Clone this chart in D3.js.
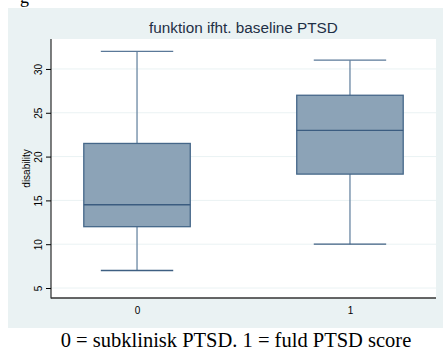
<!DOCTYPE html>
<html><head><meta charset="utf-8">
<script src="https://cdn.jsdelivr.net/npm/d3@7"></script>
<style>body{margin:0;background:#fff}svg{display:block}</style>
</head><body>
<script>
const categories = ["0", "1"];
const lowerWhisker = [7, 10];
const q1 = [12, 18];
const median = [14.5, 23];
const q3 = [21.5, 27];
const upperWhisker = [32, 31];
const yTicks = [5, 10, 15, 20, 25, 30];
const title = "funktion ifht. baseline PTSD";
const yLabel = "disability";
const caption = "0 = subklinisk PTSD. 1 = fuld PTSD score";

const W = 444, H = 353;
const plot = {l: 51, r: 436, t: 39, b: 298};
const svg = d3.select("body").append("svg").attr("width", W).attr("height", H);

// top fragment (cut off in the reference as well)
svg.append("text").attr("x", 20).attr("y", 3).attr("font-family", "Liberation Serif, serif")
  .attr("font-size", 18).text("g");

svg.append("rect").attr("x", 8).attr("y", 8).attr("width", 435).attr("height", 320).attr("fill", "#eaf2f3");
svg.append("rect").attr("x", plot.l).attr("y", plot.t).attr("width", plot.r - plot.l).attr("height", plot.b - plot.t).attr("fill", "#fff");

const y = d3.scaleLinear().domain([3.86, 33.42]).range([plot.b, plot.t]);
const x = d3.scalePoint().domain(categories).range([plot.l, plot.r]).padding(0.404);
const step = x.step();
const boxW = step * 0.5, capW = step * 0.34;

// grid
svg.append("g").selectAll("line").data(yTicks).join("line")
  .attr("x1", plot.l).attr("x2", plot.r).attr("y1", d => y(d)).attr("y2", d => y(d))
  .attr("stroke", "#eaf2f3").attr("stroke-width", 1);

// y axis
const ya = svg.append("g").attr("transform", `translate(${plot.l},0)`)
  .call(d3.axisLeft(y).tickValues(yTicks).tickSize(5).tickPadding(3));
ya.select(".domain").remove();
ya.append("line").attr("x1", 0).attr("x2", 0).attr("y1", plot.t).attr("y2", plot.b + 0.5).attr("stroke", "#000");
ya.selectAll(".tick line").attr("stroke", "#000");
ya.selectAll(".tick text").attr("font-family", "Liberation Sans, Arial, sans-serif").attr("font-size", 10)
  .attr("fill", "#000").attr("x", 0).attr("y", 0).attr("dy", "0")
  .attr("text-anchor", "middle").attr("transform", "translate(-9,0) rotate(-90)");

// x axis
const xa = svg.append("g").attr("transform", `translate(0,${plot.b})`)
  .call(d3.axisBottom(x).tickSize(0).tickPadding(9));
xa.select(".domain").remove();
xa.append("line").attr("x1", plot.l).attr("x2", plot.r).attr("y1", 0).attr("y2", 0).attr("stroke", "#333").attr("stroke-width", 1.5);
xa.selectAll(".tick text").attr("font-family", "Liberation Sans, Arial, sans-serif").attr("font-size", 10).attr("fill", "#000");

// boxes
const data = categories.map((c, i) => ({c, lo: lowerWhisker[i], q1: q1[i], med: median[i], q3: q3[i], hi: upperWhisker[i]}));
const g = svg.append("g").selectAll("g").data(data).join("g")
  .attr("transform", d => `translate(${x(d.c)},0)`);
g.append("line").attr("x1", 0).attr("x2", 0).attr("y1", d => y(d.hi)).attr("y2", d => y(d.q3)).attr("stroke", "#6a87a3").attr("stroke-width", 1.3);
g.append("line").attr("x1", 0).attr("x2", 0).attr("y1", d => y(d.q1)).attr("y2", d => y(d.lo)).attr("stroke", "#6a87a3").attr("stroke-width", 1.3);
g.append("line").attr("x1", -capW / 2).attr("x2", capW / 2).attr("y1", d => y(d.hi)).attr("y2", d => y(d.hi)).attr("stroke", "#5a7898").attr("stroke-width", 1.3);
g.append("line").attr("x1", -capW / 2).attr("x2", capW / 2).attr("y1", d => y(d.lo)).attr("y2", d => y(d.lo)).attr("stroke", "#3e5f82").attr("stroke-width", 1.3);
g.append("rect").attr("x", -boxW / 2).attr("width", boxW).attr("y", d => y(d.q3)).attr("height", d => y(d.q1) - y(d.q3))
  .attr("fill", "#8ca3b7").attr("stroke", "#456789").attr("stroke-width", 1.3);
g.append("line").attr("x1", -boxW / 2).attr("x2", boxW / 2).attr("y1", d => y(d.med)).attr("y2", d => y(d.med)).attr("stroke", "#3b5c80").attr("stroke-width", 1.3);

// y label
svg.append("text").attr("transform", `translate(30,${(plot.t + plot.b) / 2}) rotate(-90)`)
  .attr("text-anchor", "middle").attr("font-family", "Liberation Sans, Arial, sans-serif").attr("font-size", 10).text(yLabel);

// title
svg.append("text").attr("x", 243.5).attr("y", 33).attr("text-anchor", "middle")
  .attr("font-family", "Liberation Sans, Arial, sans-serif").attr("font-size", 15.3).attr("fill", "#1e2f45").text(title);

// caption
svg.append("text").attr("x", 236).attr("y", 347).attr("text-anchor", "middle")
  .attr("font-family", "Liberation Serif, Times New Roman, serif").attr("font-size", 20.5).attr("fill", "#000").text(caption);
</script>
</body></html>
